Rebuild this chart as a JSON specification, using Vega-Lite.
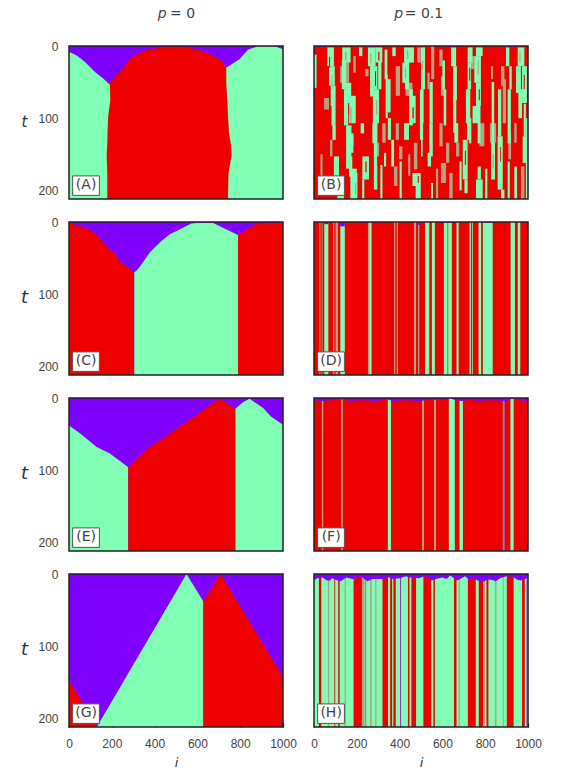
{
"$schema":"https://vega.github.io/schema/vega-lite/v6.json",
"padding":{"left":20,"top":6,"right":0,"bottom":0},
"columns":2,
"bounds":"flush",
"spacing":{"row":23,"column":31},
"config":{"view":{"stroke":null},"axis":{"grid":false,"domain":false,"tickSize":-4,"tickColor":"#222","tickWidth":1.2,"labelFont":"Liberation Sans","labelFontSize":12,"labelColor":"#444","labelPadding":15,"labelFlush":false,"labelOverlap":false,"format":"d","titleFont":"DejaVu Sans","titleFontStyle":"italic","titleFontWeight":"normal","titleColor":"#333","zindex":1}},
"concat":[
{"width":214,"height":153,
"encoding":{"x":{"field":"i","type":"quantitative","scale":{"domain":[0,1000],"nice":false,"zero":false},"axis":null},
"y":{"field":"t","type":"quantitative","scale":{"domain":[0,212],"reverse":true,"nice":false,"zero":false},"axis":{"values":[0,100,200],"title":"t","titleAngle":0,"titleX":-45,"titleY":75,"titleFontSize":15,"titleAlign":"center","titleBaseline":"middle"}}},
"layer":[
{"data":{"values":[{"i":0,"i2":1000,"t":0,"t2":212,"s":"v"}]},"mark":{"type":"rect","clip":true},"encoding":{"x2":{"field":"i2"},"y2":{"field":"t2"},"color":{"field":"s","type":"nominal","scale":{"domain":["v","g","r","m","b","p"],"range":["#8000ff","#80ffb4","#ee0000","#b8a080","#8080c8","#a030c0"]},"legend":null}}},
{"data":{"values":[
{"i":0,"t":8,"t2":212,"s":"g","r":"a"},{"i":36,"t":13,"t2":212,"s":"g","r":"a"},{"i":75,"t":22,"t2":212,"s":"g","r":"a"},{"i":121,"t":36,"t2":212,"s":"g","r":"a"},{"i":160,"t":45,"t2":212,"s":"g","r":"a"},{"i":188,"t":53,"t2":212,"s":"g","r":"a"},{"i":260,"t":53,"t2":212,"s":"g","r":"a"},
{"i":700,"t":30,"t2":212,"s":"g","r":"b"},{"i":735,"t":30,"t2":212,"s":"g","r":"b"},{"i":767,"t":24,"t2":212,"s":"g","r":"b"},{"i":798,"t":18,"t2":212,"s":"g","r":"b"},{"i":837,"t":5,"t2":212,"s":"g","r":"b"},{"i":883,"t":0.5,"t2":212,"s":"g","r":"b"},{"i":961,"t":0.5,"t2":212,"s":"g","r":"b"},{"i":1000,"t":4.6,"t2":212,"s":"g","r":"b"}
]},"mark":{"type":"area","clip":true,"interpolate":"linear"},"encoding":{"y2":{"field":"t2"},"detail":{"field":"r"},"color":{"field":"s","type":"nominal","legend":null}}},
{"data":{"values":[
{"t":0.5,"i":470,"i2":530,"s":"r"},{"t":1.4,"i":440,"i2":549,"s":"r"},{"t":6,"i":362,"i2":611,"s":"r"},{"t":13,"i":308,"i2":673,"s":"r"},{"t":20,"i":277,"i2":712,"s":"r"},{"t":31,"i":253,"i2":735,"s":"r"},{"t":41,"i":222,"i2":735,"s":"r"},{"t":52,"i":191,"i2":735,"s":"r"},{"t":75,"i":193,"i2":740,"s":"r"},{"t":98,"i":183,"i2":743,"s":"r"},{"t":121,"i":180,"i2":748,"s":"r"},{"t":135,"i":179,"i2":756,"s":"r"},{"t":151,"i":176,"i2":760,"s":"r"},{"t":177,"i":179,"i2":745,"s":"r"},{"t":212,"i":179,"i2":743,"s":"r"}
]},"mark":{"type":"area","orient":"horizontal","clip":true},"encoding":{"x2":{"field":"i2"},"color":{"field":"s","type":"nominal","legend":null}}},
{"data":{"values":[{"i":0,"i2":1000,"t":0,"t2":212}]},"mark":{"type":"rect","fill":null,"stroke":"#222","strokeWidth":1.5},"encoding":{"x2":{"field":"i2"},"y2":{"field":"t2"}}},
{"data":{"values":[{"i":17,"i2":142,"t":180,"t2":207}]},"mark":{"type":"rect","fill":"white","stroke":"#555","strokeWidth":1},"encoding":{"x2":{"field":"i2"},"y2":{"field":"t2"}}},
{"data":{"values":[{"i":80,"t":193,"label":"(A)"}]},"mark":{"type":"text","font":"DejaVu Sans","fontSize":14,"color":"#444"},"encoding":{"text":{"field":"label"}}},
{"data":{"values":[{"i":435,"t":-45,"label":"p"}]},"mark":{"type":"text","font":"DejaVu Sans","fontSize":14,"fontStyle":"italic","color":"#444"},"encoding":{"text":{"field":"label"}}},
{"data":{"values":[{"i":472,"t":-45,"label":"= 0"}]},"mark":{"type":"text","font":"DejaVu Sans","fontSize":14,"align":"left","color":"#444"},"encoding":{"text":{"field":"label"}}}
]},
{"width":214,"height":153,
"encoding":{"x":{"field":"i","type":"quantitative","scale":{"domain":[0,1000],"nice":false,"zero":false},"axis":null},
"y":{"field":"t","type":"quantitative","scale":{"domain":[0,212],"reverse":true,"nice":false,"zero":false},"axis":null}},
"layer":[
{"data":{"values":[
{"i":0,"i2":1000,"t":0,"t2":212,"s":"r"},
{"i":47,"i2":70,"t":72,"t2":88,"s":"m"},{"i":122,"i2":137,"t":28,"t2":51,"s":"m"},{"i":184,"i2":195,"t":14,"t2":37,"s":"m"},{"i":240,"i2":255,"t":32,"t2":42,"s":"m"},{"i":382,"i2":402,"t":28,"t2":69,"s":"m"},{"i":530,"i2":540,"t":37,"t2":60,"s":"m"},{"i":547,"i2":562,"t":0,"t2":46,"s":"m"},{"i":586,"i2":601,"t":5,"t2":28,"s":"m"},{"i":593,"i2":609,"t":42,"t2":69,"s":"m"},{"i":730,"i2":750,"t":14,"t2":32,"s":"m"},{"i":827,"i2":837,"t":28,"t2":46,"s":"m"},{"i":874,"i2":890,"t":28,"t2":55,"s":"m"},{"i":882,"i2":897,"t":46,"t2":107,"s":"m"},{"i":428,"i2":460,"t":51,"t2":69,"s":"m"},{"i":140,"i2":164,"t":23,"t2":51,"s":"m"},{"i":483,"i2":499,"t":2,"t2":23,"s":"m"},
{"i":75,"i2":86,"t":130,"t2":153,"s":"m"},{"i":280,"i2":304,"t":134,"t2":153,"s":"m"},{"i":374,"i2":390,"t":167,"t2":194,"s":"m"},{"i":382,"i2":397,"t":107,"t2":130,"s":"m"},{"i":397,"i2":413,"t":139,"t2":157,"s":"m"},{"i":319,"i2":335,"t":107,"t2":134,"s":"m"},{"i":467,"i2":483,"t":134,"t2":171,"s":"m"},{"i":586,"i2":601,"t":107,"t2":139,"s":"m"},{"i":617,"i2":632,"t":134,"t2":162,"s":"m"},{"i":593,"i2":617,"t":162,"t2":190,"s":"m"},{"i":632,"i2":648,"t":176,"t2":212,"s":"m"},{"i":664,"i2":679,"t":134,"t2":153,"s":"m"},{"i":773,"i2":796,"t":107,"t2":139,"s":"m"},{"i":822,"i2":851,"t":107,"t2":134,"s":"m"},{"i":908,"i2":921,"t":121,"t2":157,"s":"m"},{"i":936,"i2":947,"t":107,"t2":134,"s":"m"},{"i":967,"i2":983,"t":167,"t2":212,"s":"m"},
{"i":0,"i2":12,"t":12,"t2":58,"s":"g"},{"i":62,"i2":93,"t":2,"t2":28,"s":"g"},{"i":70,"i2":97,"t":28,"t2":55,"s":"g"},{"i":78,"i2":101,"t":55,"t2":83,"s":"g"},{"i":86,"i2":101,"t":83,"t2":107,"s":"g"},
{"i":132,"i2":171,"t":2,"t2":23,"s":"g"},{"i":148,"i2":174,"t":51,"t2":79,"s":"g"},{"i":164,"i2":195,"t":69,"t2":107,"s":"g"},{"i":210,"i2":226,"t":2,"t2":14,"s":"g"},
{"i":252,"i2":288,"t":2,"t2":28,"s":"g"},{"i":268,"i2":296,"t":28,"t2":60,"s":"g"},{"i":280,"i2":304,"t":60,"t2":107,"s":"g"},{"i":288,"i2":319,"t":2,"t2":23,"s":"g"},{"i":330,"i2":343,"t":5,"t2":46,"s":"g"},{"i":343,"i2":358,"t":46,"t2":92,"s":"g"},{"i":366,"i2":382,"t":2,"t2":14,"s":"g"},
{"i":421,"i2":467,"t":2,"t2":23,"s":"g"},{"i":413,"i2":444,"t":23,"t2":51,"s":"g"},{"i":452,"i2":475,"t":69,"t2":107,"s":"g"},
{"i":500,"i2":519,"t":2,"t2":60,"s":"g"},{"i":500,"i2":512,"t":60,"t2":107,"s":"g"},
{"i":640,"i2":664,"t":2,"t2":28,"s":"g"},{"i":650,"i2":668,"t":28,"t2":75,"s":"g"},
{"i":718,"i2":741,"t":2,"t2":23,"s":"g"},{"i":718,"i2":734,"t":23,"t2":60,"s":"g"},{"i":710,"i2":730,"t":60,"t2":107,"s":"g"},
{"i":757,"i2":788,"t":2,"t2":14,"s":"g"},{"i":749,"i2":780,"t":14,"t2":51,"s":"g"},{"i":757,"i2":780,"t":51,"t2":83,"s":"g"},{"i":741,"i2":773,"t":83,"t2":107,"s":"g"},
{"i":897,"i2":913,"t":2,"t2":28,"s":"g"},{"i":913,"i2":924,"t":28,"t2":60,"s":"g"},{"i":952,"i2":983,"t":2,"t2":28,"s":"g"},{"i":944,"i2":967,"t":28,"t2":65,"s":"g"},{"i":972,"i2":995,"t":28,"t2":79,"s":"g"},
{"i":86,"i2":101,"t":107,"t2":130,"s":"g"},{"i":156,"i2":184,"t":125,"t2":148,"s":"g"},{"i":171,"i2":184,"t":121,"t2":139,"s":"g"},{"i":164,"i2":179,"t":153,"t2":181,"s":"g"},{"i":184,"i2":203,"t":176,"t2":212,"s":"g"},{"i":93,"i2":117,"t":153,"t2":190,"s":"g"},{"i":109,"i2":140,"t":185,"t2":212,"s":"g"},{"i":218,"i2":234,"t":107,"t2":121,"s":"g"},{"i":226,"i2":257,"t":153,"t2":185,"s":"g"},{"i":273,"i2":296,"t":107,"t2":134,"s":"g"},{"i":280,"i2":296,"t":167,"t2":199,"s":"g"},{"i":327,"i2":337,"t":148,"t2":167,"s":"g"},{"i":361,"i2":374,"t":130,"t2":167,"s":"g"},{"i":421,"i2":444,"t":107,"t2":130,"s":"g"},{"i":460,"i2":499,"t":176,"t2":194,"s":"g"},{"i":475,"i2":499,"t":194,"t2":212,"s":"g"},
{"i":500,"i2":508,"t":107,"t2":153,"s":"g"},{"i":539,"i2":555,"t":107,"t2":153,"s":"g"},{"i":531,"i2":547,"t":148,"t2":167,"s":"g"},{"i":547,"i2":556,"t":190,"t2":212,"s":"g"},{"i":656,"i2":674,"t":107,"t2":134,"s":"g"},{"i":695,"i2":718,"t":130,"t2":185,"s":"g"},{"i":703,"i2":718,"t":185,"t2":204,"s":"g"},{"i":718,"i2":734,"t":107,"t2":130,"s":"g"},{"i":765,"i2":780,"t":167,"t2":185,"s":"g"},{"i":757,"i2":788,"t":185,"t2":212,"s":"g"},{"i":827,"i2":846,"t":134,"t2":185,"s":"g"},{"i":858,"i2":882,"t":125,"t2":199,"s":"g"},{"i":874,"i2":890,"t":199,"t2":212,"s":"g"},{"i":936,"i2":949,"t":167,"t2":212,"s":"g"},{"i":975,"i2":991,"t":125,"t2":162,"s":"g"},
{"i":82,"i2":95,"t":60,"t2":110,"s":"g"},{"i":90,"i2":100,"t":110,"t2":130,"s":"g"},{"i":130,"i2":150,"t":20,"t2":60,"s":"g"},{"i":140,"i2":160,"t":60,"t2":110,"s":"g"},{"i":150,"i2":175,"t":110,"t2":170,"s":"g"},{"i":170,"i2":200,"t":170,"t2":212,"s":"g"},{"i":262,"i2":280,"t":20,"t2":70,"s":"g"},{"i":275,"i2":295,"t":70,"t2":135,"s":"g"},{"i":280,"i2":295,"t":135,"t2":170,"s":"g"},{"i":300,"i2":315,"t":20,"t2":60,"s":"g"},{"i":335,"i2":345,"t":40,"t2":100,"s":"g"},{"i":345,"i2":360,"t":100,"t2":130,"s":"g"},{"i":425,"i2":445,"t":20,"t2":60,"s":"g"},{"i":445,"i2":462,"t":60,"t2":110,"s":"g"},{"i":495,"i2":510,"t":60,"t2":130,"s":"g"},{"i":540,"i2":555,"t":50,"t2":107,"s":"g"},{"i":600,"i2":612,"t":20,"t2":60,"s":"g"},{"i":606,"i2":618,"t":60,"t2":110,"s":"g"},{"i":650,"i2":665,"t":70,"t2":120,"s":"g"},{"i":725,"i2":735,"t":100,"t2":135,"s":"g"},{"i":715,"i2":725,"t":60,"t2":130,"s":"g"},{"i":765,"i2":778,"t":80,"t2":135,"s":"g"},{"i":830,"i2":842,"t":50,"t2":135,"s":"g"},{"i":860,"i2":875,"t":60,"t2":125,"s":"g"},{"i":905,"i2":920,"t":60,"t2":135,"s":"g"},{"i":955,"i2":972,"t":60,"t2":100,"s":"g"},{"i":980,"i2":990,"t":80,"t2":125,"s":"g"},
{"i":30,"i2":40,"t":150,"t2":180,"s":"m"},{"i":225,"i2":235,"t":185,"t2":212,"s":"g"},{"i":310,"i2":320,"t":165,"t2":212,"s":"g"},{"i":400,"i2":410,"t":160,"t2":212,"s":"g"},{"i":440,"i2":450,"t":150,"t2":180,"s":"m"},{"i":570,"i2":580,"t":170,"t2":212,"s":"m"},{"i":680,"i2":690,"t":160,"t2":200,"s":"g"},{"i":800,"i2":810,"t":170,"t2":212,"s":"g"},{"i":905,"i2":915,"t":160,"t2":212,"s":"g"},{"i":990,"i2":1000,"t":100,"t2":212,"s":"g"},
{"i":70,"i2":75,"t":15,"t2":30,"s":"r"},{"i":82,"i2":86,"t":40,"t2":60,"s":"m"},{"i":145,"i2":152,"t":8,"t2":20,"s":"m"},{"i":160,"i2":164,"t":80,"t2":95,"s":"r"},{"i":170,"i2":176,"t":85,"t2":107,"s":"m"},{"i":262,"i2":268,"t":10,"t2":24,"s":"m"},{"i":285,"i2":290,"t":35,"t2":55,"s":"r"},{"i":290,"i2":296,"t":75,"t2":95,"s":"m"},{"i":300,"i2":306,"t":8,"t2":20,"s":"r"},{"i":435,"i2":441,"t":6,"t2":18,"s":"m"},{"i":425,"i2":430,"t":30,"t2":45,"s":"m"},{"i":460,"i2":466,"t":85,"t2":100,"s":"r"},{"i":505,"i2":510,"t":20,"t2":32,"s":"m"},{"i":725,"i2":730,"t":30,"t2":48,"s":"r"},{"i":765,"i2":770,"t":20,"t2":40,"s":"m"},{"i":770,"i2":775,"t":60,"t2":75,"s":"r"},{"i":960,"i2":965,"t":8,"t2":22,"s":"m"},{"i":980,"i2":985,"t":40,"t2":60,"s":"r"},{"i":870,"i2":874,"t":140,"t2":160,"s":"r"},{"i":835,"i2":840,"t":150,"t2":170,"s":"m"},{"i":705,"i2":710,"t":145,"t2":165,"s":"r"},{"i":192,"i2":197,"t":190,"t2":205,"s":"m"},{"i":240,"i2":246,"t":160,"t2":175,"s":"r"},{"i":485,"i2":490,"t":180,"t2":190,"s":"r"},{"i":768,"i2":776,"t":195,"t2":205,"s":"g"},
{"i":0,"i2":60,"t":0,"t2":1.5,"s":"v"},{"i":250,"i2":285,"t":0,"t2":1.5,"s":"v"},{"i":620,"i2":660,"t":0,"t2":1.5,"s":"v"},{"i":900,"i2":950,"t":0,"t2":1.5,"s":"v"}
]},"mark":{"type":"rect","clip":true},"encoding":{"x2":{"field":"i2"},"y2":{"field":"t2"},"color":{"field":"s","type":"nominal","legend":null}}},
{"data":{"values":[{"i":0,"i2":1000,"t":0,"t2":212}]},"mark":{"type":"rect","fill":null,"stroke":"#222","strokeWidth":1.5},"encoding":{"x2":{"field":"i2"},"y2":{"field":"t2"}}},
{"data":{"values":[{"i":17,"i2":142,"t":180,"t2":207}]},"mark":{"type":"rect","fill":"white","stroke":"#555","strokeWidth":1},"encoding":{"x2":{"field":"i2"},"y2":{"field":"t2"}}},
{"data":{"values":[{"i":80,"t":193,"label":"(B)"}]},"mark":{"type":"text","font":"DejaVu Sans","fontSize":14,"color":"#444"},"encoding":{"text":{"field":"label"}}},
{"data":{"values":[{"i":396,"t":-45,"label":"p"}]},"mark":{"type":"text","font":"DejaVu Sans","fontSize":14,"fontStyle":"italic","color":"#444"},"encoding":{"text":{"field":"label"}}},
{"data":{"values":[{"i":424,"t":-45,"label":"= 0.1"}]},"mark":{"type":"text","font":"DejaVu Sans","fontSize":14,"align":"left","color":"#444"},"encoding":{"text":{"field":"label"}}}
]},
{"width":214,"height":153,
"encoding":{"x":{"field":"i","type":"quantitative","scale":{"domain":[0,1000],"nice":false,"zero":false},"axis":null},
"y":{"field":"t","type":"quantitative","scale":{"domain":[0,212],"reverse":true,"nice":false,"zero":false},"axis":{"values":[0,100,200],"title":"t","titleAngle":0,"titleX":-45,"titleY":75,"titleFontSize":18,"titleAlign":"center","titleBaseline":"middle"}}},
"layer":[
{"data":{"values":[{"i":0,"i2":1000,"t":0,"t2":212,"s":"v"}]},"mark":{"type":"rect","clip":true},"encoding":{"x2":{"field":"i2"},"y2":{"field":"t2"},"color":{"field":"s","type":"nominal","legend":null}}},
{"data":{"values":[
{"i":0,"t":1.4,"t2":212,"s":"r","r":"a"},{"i":51,"t":6,"t2":212,"s":"r","r":"a"},{"i":98,"t":11,"t2":212,"s":"r","r":"a"},{"i":137,"t":20,"t2":212,"s":"r","r":"a"},{"i":184,"t":37,"t2":212,"s":"r","r":"a"},{"i":215,"t":44,"t2":212,"s":"r","r":"a"},{"i":238,"t":55,"t2":212,"s":"r","r":"a"},{"i":277,"t":63,"t2":212,"s":"r","r":"a"},{"i":305,"t":70,"t2":212,"s":"r","r":"a"},
{"i":305,"t":70,"t2":212,"s":"g","r":"b"},{"i":323,"t":65,"t2":212,"s":"g","r":"b"},{"i":347,"t":55,"t2":212,"s":"g","r":"b"},{"i":378,"t":42,"t2":212,"s":"g","r":"b"},{"i":425,"t":28,"t2":212,"s":"g","r":"b"},{"i":471,"t":17,"t2":212,"s":"g","r":"b"},{"i":526,"t":9,"t2":212,"s":"g","r":"b"},{"i":572,"t":2,"t2":212,"s":"g","r":"b"},{"i":611,"t":1,"t2":212,"s":"g","r":"b"},{"i":673,"t":1.4,"t2":212,"s":"g","r":"b"},{"i":712,"t":7,"t2":212,"s":"g","r":"b"},{"i":790,"t":18,"t2":212,"s":"g","r":"b"},
{"i":790,"t":18,"t2":212,"s":"r","r":"c"},{"i":829,"t":11,"t2":212,"s":"r","r":"c"},{"i":875,"t":3,"t2":212,"s":"r","r":"c"},{"i":922,"t":1.4,"t2":212,"s":"r","r":"c"},{"i":1000,"t":1,"t2":212,"s":"r","r":"c"}
]},"mark":{"type":"area","clip":true},"encoding":{"y2":{"field":"t2"},"detail":{"field":"r"},"color":{"field":"s","type":"nominal","legend":null}}},
{"data":{"values":[{"i":0,"i2":1000,"t":0,"t2":212}]},"mark":{"type":"rect","fill":null,"stroke":"#222","strokeWidth":1.5},"encoding":{"x2":{"field":"i2"},"y2":{"field":"t2"}}},
{"data":{"values":[{"i":17,"i2":142,"t":180,"t2":207}]},"mark":{"type":"rect","fill":"white","stroke":"#555","strokeWidth":1},"encoding":{"x2":{"field":"i2"},"y2":{"field":"t2"}}},
{"data":{"values":[{"i":80,"t":193,"label":"(C)"}]},"mark":{"type":"text","font":"DejaVu Sans","fontSize":14,"color":"#444"},"encoding":{"text":{"field":"label"}}}
]},
{"width":214,"height":153,
"encoding":{"x":{"field":"i","type":"quantitative","scale":{"domain":[0,1000],"nice":false,"zero":false},"axis":null},
"y":{"field":"t","type":"quantitative","scale":{"domain":[0,212],"reverse":true,"nice":false,"zero":false},"axis":null}},
"layer":[
{"data":{"values":[
{"i":0,"i2":1000,"t":0,"t2":212,"s":"r"},
{"i":25,"i2":30,"t":0,"t2":212,"s":"m"},{"i":36,"i2":40,"t":0,"t2":212,"s":"m"},{"i":48,"i2":67,"t":0,"t2":212,"s":"g"},{"i":89,"i2":95,"t":0,"t2":212,"s":"m"},{"i":101,"i2":112,"t":0,"t2":212,"s":"m"},{"i":123,"i2":144,"t":0,"t2":212,"s":"g"},
{"i":252,"i2":258,"t":0,"t2":212,"s":"m"},{"i":258,"i2":269,"t":0,"t2":212,"s":"g"},{"i":374,"i2":380,"t":0,"t2":212,"s":"m"},{"i":387,"i2":391,"t":0,"t2":212,"s":"g"},{"i":467,"i2":477,"t":0,"t2":212,"s":"m"},{"i":486,"i2":492,"t":0,"t2":212,"s":"m"},{"i":519,"i2":539,"t":0,"t2":212,"s":"g"},{"i":551,"i2":565,"t":0,"t2":212,"s":"g"},{"i":607,"i2":624,"t":0,"t2":212,"s":"g"},{"i":627,"i2":644,"t":0,"t2":212,"s":"g"},{"i":666,"i2":676,"t":0,"t2":212,"s":"g"},{"i":727,"i2":733,"t":0,"t2":212,"s":"g"},{"i":738,"i2":742,"t":0,"t2":212,"s":"g"},{"i":769,"i2":781,"t":0,"t2":212,"s":"g"},{"i":789,"i2":835,"t":0,"t2":212,"s":"g"},{"i":919,"i2":939,"t":0,"t2":212,"s":"g"},{"i":952,"i2":964,"t":0,"t2":212,"s":"g"},
{"i":48,"i2":67,"t":0,"t2":3,"s":"v"},{"i":120,"i2":144,"t":0,"t2":6,"s":"v"},{"i":483,"i2":498,"t":0,"t2":4,"s":"v"},{"i":210,"i2":260,"t":0,"t2":1,"s":"v"},{"i":590,"i2":640,"t":0,"t2":1,"s":"v"},{"i":780,"i2":840,"t":0,"t2":1,"s":"v"}
]},"mark":{"type":"rect","clip":true},"encoding":{"x2":{"field":"i2"},"y2":{"field":"t2"},"color":{"field":"s","type":"nominal","legend":null}}},
{"data":{"values":[{"i":0,"i2":1000,"t":0,"t2":212}]},"mark":{"type":"rect","fill":null,"stroke":"#222","strokeWidth":1.5},"encoding":{"x2":{"field":"i2"},"y2":{"field":"t2"}}},
{"data":{"values":[{"i":17,"i2":142,"t":180,"t2":207}]},"mark":{"type":"rect","fill":"white","stroke":"#555","strokeWidth":1},"encoding":{"x2":{"field":"i2"},"y2":{"field":"t2"}}},
{"data":{"values":[{"i":80,"t":193,"label":"(D)"}]},"mark":{"type":"text","font":"DejaVu Sans","fontSize":14,"color":"#444"},"encoding":{"text":{"field":"label"}}}
]},
{"width":214,"height":153,
"encoding":{"x":{"field":"i","type":"quantitative","scale":{"domain":[0,1000],"nice":false,"zero":false},"axis":null},
"y":{"field":"t","type":"quantitative","scale":{"domain":[0,212],"reverse":true,"nice":false,"zero":false},"axis":{"values":[0,100,200],"title":"t","titleAngle":0,"titleX":-45,"titleY":75,"titleFontSize":18,"titleAlign":"center","titleBaseline":"middle"}}},
"layer":[
{"data":{"values":[{"i":0,"i2":1000,"t":0,"t2":212,"s":"v"}]},"mark":{"type":"rect","clip":true},"encoding":{"x2":{"field":"i2"},"y2":{"field":"t2"},"color":{"field":"s","type":"nominal","legend":null}}},
{"data":{"values":[
{"i":0,"t":38,"t2":212,"s":"g","r":"a"},{"i":51,"t":49,"t2":212,"s":"g","r":"a"},{"i":129,"t":68,"t2":212,"s":"g","r":"a"},{"i":191,"t":77,"t2":212,"s":"g","r":"a"},{"i":277,"t":96,"t2":212,"s":"g","r":"a"},
{"i":277,"t":96,"t2":212,"s":"r","r":"b"},{"i":323,"t":82,"t2":212,"s":"r","r":"b"},{"i":378,"t":68,"t2":212,"s":"r","r":"b"},{"i":440,"t":56,"t2":212,"s":"r","r":"b"},{"i":518,"t":40,"t2":212,"s":"r","r":"b"},{"i":596,"t":24,"t2":212,"s":"r","r":"b"},{"i":658,"t":10,"t2":212,"s":"r","r":"b"},{"i":704,"t":1,"t2":212,"s":"r","r":"b"},{"i":778,"t":15,"t2":212,"s":"r","r":"b"},
{"i":778,"t":15,"t2":212,"s":"g","r":"c"},{"i":813,"t":6,"t2":212,"s":"g","r":"c"},{"i":844,"t":1,"t2":212,"s":"g","r":"c"},{"i":907,"t":14,"t2":212,"s":"g","r":"c"},{"i":945,"t":26,"t2":212,"s":"g","r":"c"},{"i":1000,"t":37,"t2":212,"s":"g","r":"c"}
]},"mark":{"type":"area","clip":true},"encoding":{"y2":{"field":"t2"},"detail":{"field":"r"},"color":{"field":"s","type":"nominal","legend":null}}},
{"data":{"values":[{"i":0,"i2":1000,"t":0,"t2":212}]},"mark":{"type":"rect","fill":null,"stroke":"#222","strokeWidth":1.5},"encoding":{"x2":{"field":"i2"},"y2":{"field":"t2"}}},
{"data":{"values":[{"i":17,"i2":142,"t":180,"t2":207}]},"mark":{"type":"rect","fill":"white","stroke":"#555","strokeWidth":1},"encoding":{"x2":{"field":"i2"},"y2":{"field":"t2"}}},
{"data":{"values":[{"i":80,"t":193,"label":"(E)"}]},"mark":{"type":"text","font":"DejaVu Sans","fontSize":14,"color":"#444"},"encoding":{"text":{"field":"label"}}}
]},
{"width":214,"height":153,
"encoding":{"x":{"field":"i","type":"quantitative","scale":{"domain":[0,1000],"nice":false,"zero":false},"axis":null},
"y":{"field":"t","type":"quantitative","scale":{"domain":[0,212],"reverse":true,"nice":false,"zero":false},"axis":null}},
"layer":[
{"data":{"values":[
{"i":0,"i2":1000,"t":0,"t2":212,"s":"r"},
{"i":37,"i2":43,"t":0,"t2":212,"s":"m"},{"i":127,"i2":135,"t":0,"t2":212,"s":"m"},{"i":345,"i2":360,"t":0,"t2":212,"s":"g"},{"i":505,"i2":514,"t":0,"t2":212,"s":"m"},{"i":561,"i2":570,"t":0,"t2":212,"s":"m"},{"i":630,"i2":658,"t":0,"t2":212,"s":"g"},{"i":680,"i2":696,"t":0,"t2":212,"s":"g"},{"i":882,"i2":891,"t":0,"t2":212,"s":"b"},{"i":918,"i2":933,"t":0,"t2":212,"s":"g"}
]},"mark":{"type":"rect","clip":true},"encoding":{"x2":{"field":"i2"},"y2":{"field":"t2"},"color":{"field":"s","type":"nominal","legend":null}}},
{"data":{"values":[
{"i":0,"t":3,"t2":0,"s":"v"},{"i":40,"t":4,"t2":0,"s":"v"},{"i":80,"t":3,"t2":0,"s":"v"},{"i":130,"t":2,"t2":0,"s":"v"},{"i":170,"t":4,"t2":0,"s":"v"},{"i":220,"t":3,"t2":0,"s":"v"},{"i":290,"t":4,"t2":0,"s":"v"},{"i":345,"t":2,"t2":0,"s":"v"},{"i":370,"t":4,"t2":0,"s":"v"},{"i":420,"t":3,"t2":0,"s":"v"},{"i":500,"t":4,"t2":0,"s":"v"},{"i":540,"t":2,"t2":0,"s":"v"},{"i":600,"t":3,"t2":0,"s":"v"},{"i":635,"t":0,"t2":0,"s":"v"},{"i":660,"t":3,"t2":0,"s":"v"},{"i":690,"t":4,"t2":0,"s":"v"},{"i":730,"t":2,"t2":0,"s":"v"},{"i":760,"t":4,"t2":0,"s":"v"},{"i":820,"t":3,"t2":0,"s":"v"},{"i":900,"t":4,"t2":0,"s":"v"},{"i":925,"t":1,"t2":0,"s":"v"},{"i":960,"t":3,"t2":0,"s":"v"},{"i":1000,"t":4,"t2":0,"s":"v"}
]},"mark":{"type":"area","clip":true},"encoding":{"y2":{"field":"t2"},"color":{"field":"s","type":"nominal","legend":null}}},
{"data":{"values":[{"i":0,"i2":1000,"t":0,"t2":212}]},"mark":{"type":"rect","fill":null,"stroke":"#222","strokeWidth":1.5},"encoding":{"x2":{"field":"i2"},"y2":{"field":"t2"}}},
{"data":{"values":[{"i":17,"i2":142,"t":180,"t2":207}]},"mark":{"type":"rect","fill":"white","stroke":"#555","strokeWidth":1},"encoding":{"x2":{"field":"i2"},"y2":{"field":"t2"}}},
{"data":{"values":[{"i":80,"t":193,"label":"(F)"}]},"mark":{"type":"text","font":"DejaVu Sans","fontSize":14,"color":"#444"},"encoding":{"text":{"field":"label"}}}
]},
{"width":214,"height":153,
"encoding":{"x":{"field":"i","type":"quantitative","scale":{"domain":[0,1000],"nice":false,"zero":false},"axis":{"values":[0,200,400,600,800,1000],"title":"i","titleX":107,"titleY":35,"titleFontSize":13,"titleAlign":"center","titleBaseline":"middle"}},
"y":{"field":"t","type":"quantitative","scale":{"domain":[0,212],"reverse":true,"nice":false,"zero":false},"axis":{"values":[0,100,200],"title":"t","titleAngle":0,"titleX":-45,"titleY":75,"titleFontSize":18,"titleAlign":"center","titleBaseline":"middle"}}},
"layer":[
{"data":{"values":[{"i":0,"i2":1000,"t":0,"t2":212,"s":"v"}]},"mark":{"type":"rect","clip":true},"encoding":{"x2":{"field":"i2"},"y2":{"field":"t2"},"color":{"field":"s","type":"nominal","legend":null}}},
{"data":{"values":[
{"i":0,"t":147,"t2":212,"s":"r","r":"a"},{"i":130,"t":212,"t2":212,"s":"r","r":"a"},
{"i":130,"t":212,"t2":212,"s":"g","r":"b"},{"i":549,"t":0,"t2":212,"s":"g","r":"b"},{"i":628,"t":38,"t2":212,"s":"g","r":"b"},
{"i":628,"t":38,"t2":212,"s":"r","r":"c"},{"i":708,"t":0,"t2":212,"s":"r","r":"c"},{"i":1000,"t":143,"t2":212,"s":"r","r":"c"}
]},"mark":{"type":"area","clip":true},"encoding":{"y2":{"field":"t2"},"detail":{"field":"r"},"color":{"field":"s","type":"nominal","legend":null}}},
{"data":{"values":[{"i":0,"i2":1000,"t":0,"t2":212}]},"mark":{"type":"rect","fill":null,"stroke":"#222","strokeWidth":1.5},"encoding":{"x2":{"field":"i2"},"y2":{"field":"t2"}}},
{"data":{"values":[{"i":17,"i2":142,"t":180,"t2":207}]},"mark":{"type":"rect","fill":"white","stroke":"#555","strokeWidth":1},"encoding":{"x2":{"field":"i2"},"y2":{"field":"t2"}}},
{"data":{"values":[{"i":80,"t":193,"label":"(G)"}]},"mark":{"type":"text","font":"DejaVu Sans","fontSize":14,"color":"#444"},"encoding":{"text":{"field":"label"}}}
]},
{"width":214,"height":153,
"encoding":{"x":{"field":"i","type":"quantitative","scale":{"domain":[0,1000],"nice":false,"zero":false},"axis":{"values":[0,200,400,600,800,1000],"title":"i","titleX":107,"titleY":35,"titleFontSize":13,"titleAlign":"center","titleBaseline":"middle"}},
"y":{"field":"t","type":"quantitative","scale":{"domain":[0,212],"reverse":true,"nice":false,"zero":false},"axis":null}},
"layer":[
{"data":{"values":[
{"i":0,"i2":1000,"t":0,"t2":212,"s":"g"},
{"i":23,"i2":34,"t":0,"t2":212,"s":"r"},{"i":65,"i2":71,"t":0,"t2":212,"s":"m"},{"i":95,"i2":99,"t":0,"t2":212,"s":"r"},{"i":113,"i2":120,"t":0,"t2":212,"s":"r"},{"i":143,"i2":149,"t":0,"t2":212,"s":"m"},{"i":185,"i2":224,"t":0,"t2":212,"s":"r"},{"i":224,"i2":236,"t":0,"t2":212,"s":"m"},{"i":239,"i2":244,"t":0,"t2":212,"s":"b"},{"i":262,"i2":270,"t":0,"t2":212,"s":"m"},{"i":286,"i2":292,"t":0,"t2":212,"s":"m"},{"i":320,"i2":346,"t":0,"t2":212,"s":"r"},{"i":356,"i2":365,"t":0,"t2":212,"s":"r"},{"i":371,"i2":382,"t":0,"t2":212,"s":"r"},{"i":402,"i2":407,"t":0,"t2":212,"s":"p"},{"i":439,"i2":446,"t":0,"t2":212,"s":"r"},{"i":455,"i2":477,"t":0,"t2":212,"s":"r"},{"i":511,"i2":548,"t":0,"t2":212,"s":"r"},{"i":558,"i2":565,"t":0,"t2":212,"s":"r"},{"i":654,"i2":666,"t":0,"t2":212,"s":"r"},{"i":676,"i2":682,"t":0,"t2":212,"s":"m"},{"i":719,"i2":756,"t":0,"t2":212,"s":"r"},{"i":770,"i2":790,"t":0,"t2":212,"s":"r"},{"i":790,"i2":800,"t":0,"t2":212,"s":"m"},{"i":806,"i2":815,"t":0,"t2":212,"s":"r"},{"i":845,"i2":853,"t":0,"t2":212,"s":"m"},{"i":882,"i2":887,"t":0,"t2":212,"s":"m"},{"i":901,"i2":933,"t":0,"t2":212,"s":"r"},{"i":972,"i2":985,"t":0,"t2":212,"s":"r"},{"i":992,"i2":998,"t":0,"t2":212,"s":"b"}
]},"mark":{"type":"rect","clip":true},"encoding":{"x2":{"field":"i2"},"y2":{"field":"t2"},"color":{"field":"s","type":"nominal","legend":null}}},
{"data":{"values":[
{"i":0,"t":9,"t2":0,"s":"v"},{"i":15,"t":6,"t2":0,"s":"v"},{"i":40,"t":5,"t2":0,"s":"v"},{"i":60,"t":9,"t2":0,"s":"v"},{"i":75,"t":9,"t2":0,"s":"v"},{"i":85,"t":6,"t2":0,"s":"v"},{"i":100,"t":8,"t2":0,"s":"v"},{"i":125,"t":10,"t2":0,"s":"v"},{"i":140,"t":7,"t2":0,"s":"v"},{"i":150,"t":5,"t2":0,"s":"v"},{"i":165,"t":6,"t2":0,"s":"v"},{"i":180,"t":7,"t2":0,"s":"v"},{"i":200,"t":6,"t2":0,"s":"v"},{"i":220,"t":3,"t2":0,"s":"v"},{"i":235,"t":7,"t2":0,"s":"v"},{"i":250,"t":10,"t2":0,"s":"v"},{"i":275,"t":7,"t2":0,"s":"v"},{"i":300,"t":7,"t2":0,"s":"v"},{"i":325,"t":7,"t2":0,"s":"v"},{"i":345,"t":4,"t2":0,"s":"v"},{"i":370,"t":7,"t2":0,"s":"v"},{"i":400,"t":6,"t2":0,"s":"v"},{"i":430,"t":3,"t2":0,"s":"v"},{"i":445,"t":5,"t2":0,"s":"v"},{"i":470,"t":5,"t2":0,"s":"v"},{"i":490,"t":6,"t2":0,"s":"v"},{"i":515,"t":3,"t2":0,"s":"v"},{"i":530,"t":5,"t2":0,"s":"v"},{"i":550,"t":9,"t2":0,"s":"v"},{"i":570,"t":7,"t2":0,"s":"v"},{"i":600,"t":5,"t2":0,"s":"v"},{"i":620,"t":7,"t2":0,"s":"v"},{"i":636,"t":2,"t2":0,"s":"v"},{"i":655,"t":6,"t2":0,"s":"v"},{"i":670,"t":9,"t2":0,"s":"v"},{"i":690,"t":6,"t2":0,"s":"v"},{"i":705,"t":3,"t2":0,"s":"v"},{"i":725,"t":8,"t2":0,"s":"v"},{"i":745,"t":6,"t2":0,"s":"v"},{"i":765,"t":9,"t2":0,"s":"v"},{"i":790,"t":11,"t2":0,"s":"v"},{"i":810,"t":8,"t2":0,"s":"v"},{"i":830,"t":8,"t2":0,"s":"v"},{"i":850,"t":10,"t2":0,"s":"v"},{"i":870,"t":6,"t2":0,"s":"v"},{"i":900,"t":3,"t2":0,"s":"v"},{"i":930,"t":4,"t2":0,"s":"v"},{"i":950,"t":8,"t2":0,"s":"v"},{"i":965,"t":9,"t2":0,"s":"v"},{"i":985,"t":7,"t2":0,"s":"v"},{"i":1000,"t":6,"t2":0,"s":"v"}
]},"mark":{"type":"area","clip":true},"encoding":{"y2":{"field":"t2"},"color":{"field":"s","type":"nominal","legend":null}}},
{"data":{"values":[{"i":0,"i2":1000,"t":0,"t2":212}]},"mark":{"type":"rect","fill":null,"stroke":"#222","strokeWidth":1.5},"encoding":{"x2":{"field":"i2"},"y2":{"field":"t2"}}},
{"data":{"values":[{"i":17,"i2":142,"t":180,"t2":207}]},"mark":{"type":"rect","fill":"white","stroke":"#555","strokeWidth":1},"encoding":{"x2":{"field":"i2"},"y2":{"field":"t2"}}},
{"data":{"values":[{"i":80,"t":193,"label":"(H)"}]},"mark":{"type":"text","font":"DejaVu Sans","fontSize":14,"color":"#444"},"encoding":{"text":{"field":"label"}}}
]}
]}
